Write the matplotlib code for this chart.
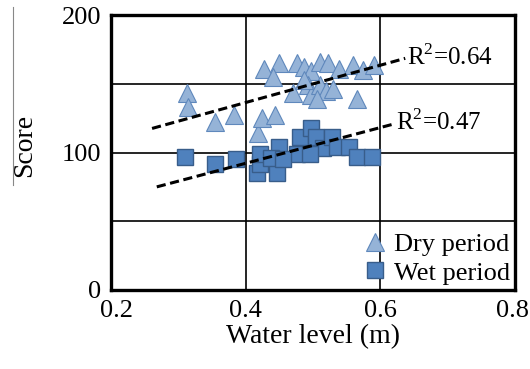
import matplotlib.pyplot as plt
from matplotlib.lines import Line2D
from matplotlib.transforms import ScaledTranslation

# data
dry_x = [0.313, 0.315, 0.355, 0.382, 0.419, 0.424, 0.444, 0.427, 0.449, 0.441,
         0.476, 0.486, 0.497, 0.510, 0.523, 0.538, 0.560, 0.575, 0.590, 0.471,
         0.493, 0.497, 0.510, 0.520, 0.530, 0.506, 0.565, 0.486]
dry_y = [143, 133, 122, 127, 114, 125, 127, 161, 165, 155,
         165, 162, 159, 166, 165, 161, 164, 160, 164, 143,
         149, 142, 149, 145, 146, 139, 139, 153]

wet_x = [0.310, 0.355, 0.385, 0.417, 0.422, 0.446, 0.449, 0.422, 0.476, 0.481,
         0.497, 0.505, 0.515, 0.528, 0.535, 0.553, 0.565, 0.588, 0.496, 0.437,
         0.456]
wet_y = [97, 92, 95, 85, 92, 85, 104, 99, 99, 111,
         118, 111, 103, 111, 104, 104, 97, 97, 99, 96,
         95]

# trend line ends
dry_fit_x = [0.261, 0.637]
dry_fit_y = [117.5, 168.5]
wet_fit_x = [0.268, 0.622]
wet_fit_y = [75, 121]

r2_labels = ["R$^2$=0.64", "R$^2$=0.47"]
x_ticks = [0.2, 0.4, 0.6, 0.8]
y_ticks = [0, 100, 200]
y_grid = [50, 150]

plt.rcParams['font.family'] = ['Liberation Serif', 'DejaVu Serif']
plt.rcParams['mathtext.fontset'] = 'custom'
plt.rcParams['mathtext.rm'] = 'Liberation Serif'

fig = plt.figure(figsize=(5.3, 3.69), dpi=100)
ax = fig.add_axes([0.2094, 0.2141, 0.7623, 0.7452])

ax.plot(dry_x, dry_y, linestyle='none', marker='^', markersize=12.5,
        markerfacecolor='#95B3D7', markeredgecolor='#5F88BC', markeredgewidth=0.8,
        label='Dry period', zorder=3)
ax.plot(wet_x, wet_y, linestyle='none', marker='s', markersize=11.5,
        markerfacecolor='#4F81BD', markeredgecolor='#385D8A', markeredgewidth=1.0,
        label='Wet period', zorder=3)

ax.plot(dry_fit_x, dry_fit_y, color='black', linestyle=(0, (3, 1.5)), linewidth=2.2, zorder=4)
ax.plot(wet_fit_x, wet_fit_y, color='black', linestyle=(0, (3, 1.5)), linewidth=2.2, zorder=4)

ax.text(dry_fit_x[1] + 0.002, dry_fit_y[1] + 1, r2_labels[0], fontsize=18, va='center', ha='left')
ax.text(wet_fit_x[1] + 0.002, wet_fit_y[1] + 1, r2_labels[1], fontsize=18, va='center', ha='left')

ax.set_xlim(0.2, 0.8)
ax.set_ylim(0, 200)
ax.set_xticks(x_ticks)
ax.set_xticklabels([f'{v:.1f}' for v in x_ticks])
ax.set_yticks(y_ticks)
ax.set_yticks(y_grid, minor=True)
ax.grid(True, which='both', color='black', linewidth=1.2)
ax.set_axisbelow(True)
ax.tick_params(which='both', length=0, labelsize=19)
ax.tick_params(axis='x', pad=7)
ax.tick_params(axis='y', pad=7)

# nudge the end x tick labels like in the source
xl = ax.get_xticklabels()
xl[0].set_transform(xl[0].get_transform() + ScaledTranslation(6 / 100, 0, fig.dpi_scale_trans))
xl[-1].set_transform(xl[-1].get_transform() + ScaledTranslation(-3 / 100, 0, fig.dpi_scale_trans))

for s in ax.spines.values():
    s.set_linewidth(2.4)

ax.set_xlabel('Water level (m)', fontsize=20, labelpad=2)
ax.set_ylabel('Score', fontsize=20)
ax.yaxis.set_label_coords(-0.183, 0.524)

ax.legend(loc='lower right', frameon=False, fontsize=19, handletextpad=0.2,
          borderaxespad=0.05, labelspacing=0.2, handlelength=1.0,
          borderpad=0.15)

# thin grey rule left of the y label, as in the source figure
fig.add_artist(Line2D([13 / 530, 13 / 530], [1 - 7 / 369, 1 - 185 / 369],
                      transform=fig.transFigure, color='#888888', linewidth=0.8))

fig.savefig('out.png', dpi=100)
